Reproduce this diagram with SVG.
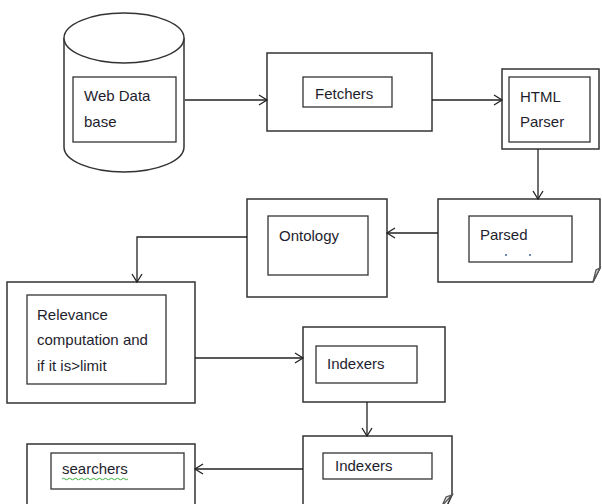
<svg xmlns="http://www.w3.org/2000/svg" width="602" height="504" viewBox="0 0 602 504">
<style>
.box{fill:#fff;stroke:#333;stroke-width:1.5}
.in{fill:#fff;stroke:#333;stroke-width:1.3}
.t{font-family:"Liberation Sans",Arial,sans-serif;font-size:15px;fill:#1e1e2e}
.c{fill:none;stroke:#222;stroke-width:1.3}
.fold{fill:#ddd;stroke:#555;stroke-width:1.3}
</style>
<defs>
<marker id="a" markerUnits="userSpaceOnUse" markerWidth="12" markerHeight="12" refX="9" refY="6" orient="auto">
<path d="M1,1 L9,6 L1,11" fill="none" stroke="#222" stroke-width="1.3"/>
</marker>
</defs>
<rect width="602" height="504" fill="#fff"/>
<g id="webdb">
<path class="box" d="M64,38 L64,147 A60,25 0 0 0 184,147 L184,38"/>
<ellipse class="box" cx="124" cy="38" rx="60" ry="25"/>
<rect class="in" x="73" y="77" width="103" height="65"/>
<text class="t" x="84" y="101">Web Data</text>
<text class="t" x="84" y="127">base</text>
</g>
<g id="fetchers">
<rect class="box" x="267" y="53" width="165" height="78"/>
<rect class="in" x="303" y="77" width="89" height="30"/>
<text class="t" x="315" y="99">Fetchers</text>
</g>
<g id="html">
<rect class="box" x="502" y="69" width="97" height="80"/>
<rect class="in" x="509" y="77" width="81" height="65"/>
<text class="t" x="520" y="102">HTML</text>
<text class="t" x="520" y="127">Parser</text>
</g>
<g id="parsed">
<path class="box" d="M438,199 L600,199 L600,268 L593,282 L438,282 Z"/>
<path class="fold" d="M600,268 L593,282 L596,270 Z"/>
<rect class="in" x="469" y="216" width="103" height="46"/>
<text class="t" x="480" y="240">Parsed</text>
<rect x="505" y="254" width="2" height="2" fill="#6a8bb0"/>
<rect x="529" y="254" width="2" height="2" fill="#6a8bb0"/>
</g>
<g id="ontology">
<rect class="box" x="247" y="199" width="140" height="98"/>
<rect class="in" x="268" y="216" width="100" height="59"/>
<text class="t" x="279" y="241">Ontology</text>
</g>
<g id="relevance">
<rect class="box" x="7" y="282" width="188" height="121"/>
<rect class="in" x="27" y="295" width="139" height="89"/>
<text class="t" x="37" y="320">Relevance</text>
<text class="t" x="37" y="345">computation and</text>
<text class="t" x="37" y="371">if it is&gt;limit</text>
</g>
<g id="indexers1">
<rect class="box" x="303" y="327" width="142" height="75"/>
<rect class="in" x="316" y="346" width="101" height="37"/>
<text class="t" x="327" y="369">Indexers</text>
</g>
<g id="indexers2">
<path class="box" d="M303,510 L303,436 L452,436 L452,495 L445,510"/>
<path class="fold" d="M452,495 L442,506 L446,497 Z"/>
<rect class="in" x="323" y="453" width="109" height="26"/>
<text class="t" x="335" y="471">Indexers</text>
</g>
<g id="searchers">
<path class="box" d="M27,510 L27,444 L195,444 L195,510"/>
<rect class="in" x="51" y="453" width="133" height="36"/>
<text class="t" x="62" y="474">searchers</text>
<path d="M62,479 q1.5,-1.5 3,0 t3,0 t3,0 t3,0 t3,0 t3,0 t3,0 t3,0 t3,0 t3,0 t3,0 t3,0 t3,0 t3,0 t3,0 t3,0 t3,0 t3,0 t3,0 t3,0 t3,0 t3,0" fill="none" stroke="#3cb043" stroke-width="1"/>
</g>
<g id="connectors">
<path class="c" d="M185,100 L267,100" marker-end="url(#a)"/>
<path class="c" d="M432,100 L502,100" marker-end="url(#a)"/>
<path class="c" d="M538,149 L538,199" marker-end="url(#a)"/>
<path class="c" d="M438,233 L387,233" marker-end="url(#a)"/>
<path class="c" d="M247,237 L137,237 L137,282" marker-end="url(#a)"/>
<path class="c" d="M195,358 L303,358" marker-end="url(#a)"/>
<path class="c" d="M367,402 L367,436" marker-end="url(#a)"/>
<path class="c" d="M303,469 L195,469" marker-end="url(#a)"/>
</g>
</svg>
